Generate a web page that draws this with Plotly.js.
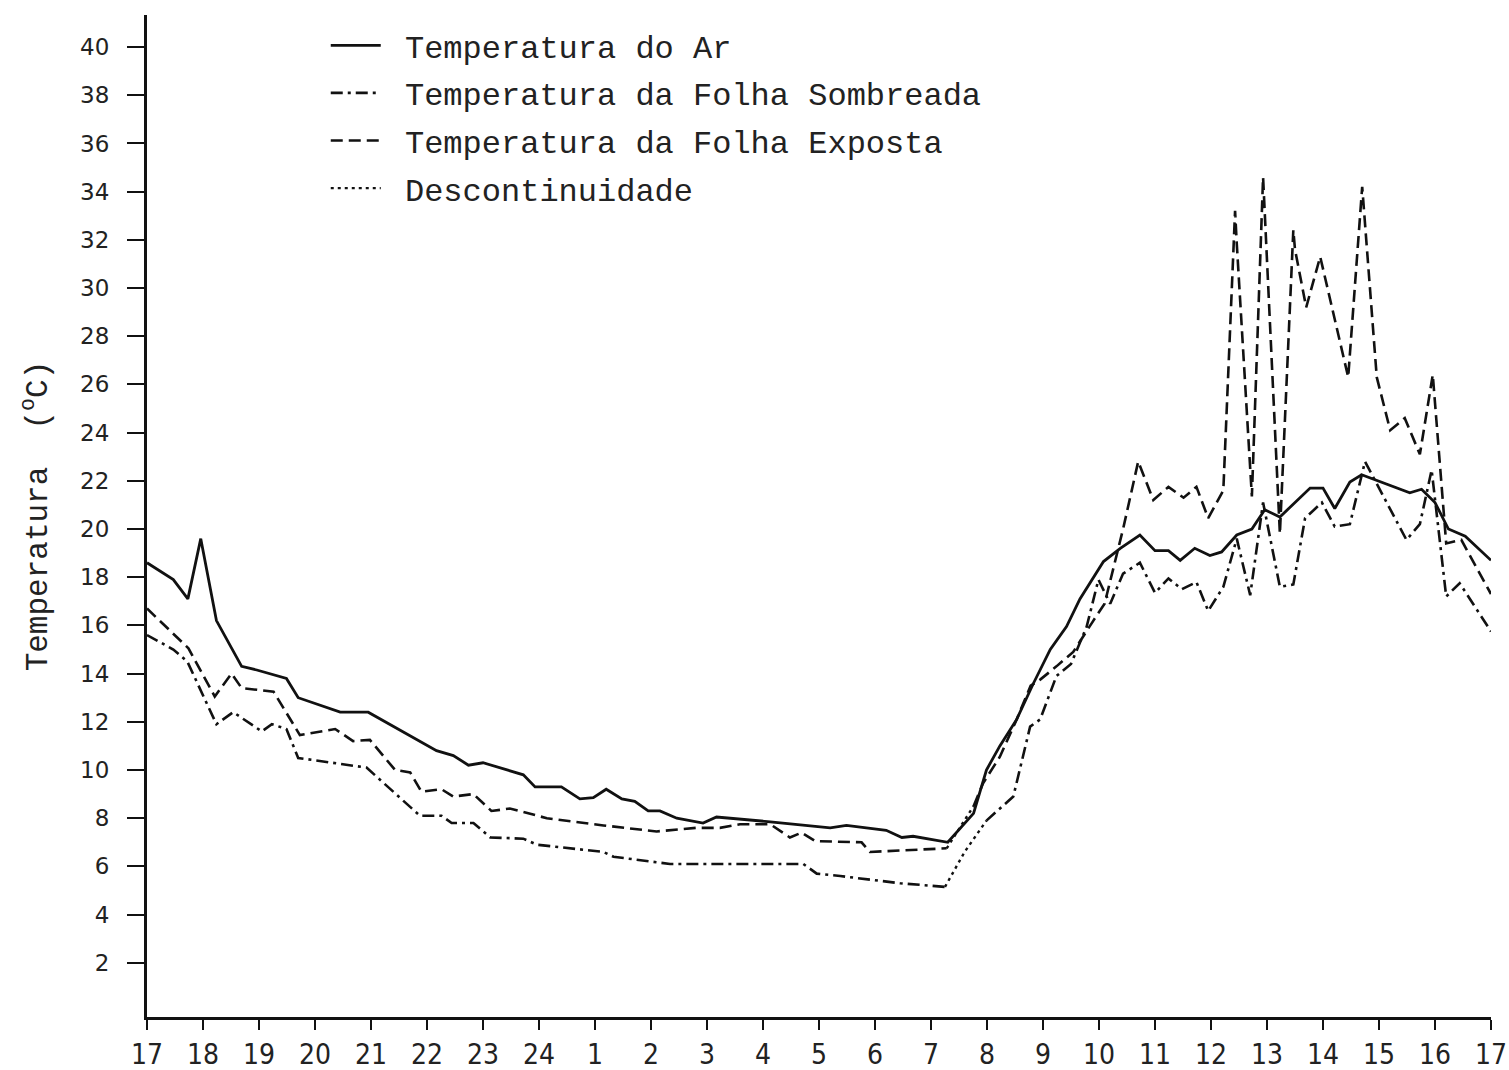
<!DOCTYPE html>
<html>
<head>
<meta charset="utf-8">
<script src="https://cdn.plot.ly/plotly-3.0.1.min.js"></script>
<style>
  html, body { margin: 0; padding: 0; background: #fff; }
  #chart { width: 1509px; height: 1070px; }
</style>
</head>
<body>
<div id="chart"></div>
<script>
// Hours elapsed since 17:00 and the clock labels shown on the axis
const hourTicks = [0,1,2,3,4,5,6,7,8,9,10,11,12,13,14,15,16,17,18,19,20,21,22,23,24];
const hourLabels = ['17','18','19','20','21','22','23','24','1','2','3','4','5','6','7','8','9','10','11','12','13','14','15','16','17'];
const tempTicks = [2,4,6,8,10,12,14,16,18,20,22,24,26,28,30,32,34,36,38,40];

// Temperatura do Ar (solid)
const arHours = [0,0.47,0.73,0.96,1.24,1.69,1.96,2.49,2.70,3.45,3.95,5.17,5.47,5.74,6.0,6.72,6.93,7.40,7.73,7.97,8.2,8.48,8.71,8.95,9.16,9.46,9.93,10.17,11.13,11.84,12.2,12.49,13.2,13.48,13.68,14.3,14.76,14.99,15.23,15.53,15.83,16.13,16.42,16.66,17.08,17.38,17.73,18.0,18.24,18.45,18.71,18.98,19.19,19.46,19.73,19.96,20.23,20.77,21.0,21.21,21.48,21.69,22.55,22.76,23.0,23.24,23.54,24.0];
const arTemp  = [18.6,17.9,17.1,19.6,16.2,14.3,14.15,13.8,13.0,12.4,12.4,10.8,10.6,10.2,10.3,9.8,9.3,9.3,8.8,8.85,9.2,8.8,8.7,8.3,8.3,8.0,7.8,8.05,7.85,7.7,7.6,7.7,7.5,7.2,7.25,7.0,8.2,10.0,11.0,12.1,13.6,15.0,15.95,17.1,18.65,19.2,19.75,19.1,19.1,18.7,19.2,18.9,19.05,19.75,20.0,20.8,20.5,21.7,21.7,20.85,21.95,22.25,21.5,21.65,21.1,20.0,19.7,18.7];

// Temperatura da Folha Sombreada (dash-dot), before and after the gap
const sombHoursA = [0,0.47,0.72,1.24,1.54,2.05,2.23,2.49,2.70,3.92,4.875,5.26,5.44,5.83,6.13,6.72,6.96,8.15,8.33,9.34,11.72,11.96,12.38,13.45,14.25];
const sombTempA  = [15.6,15.0,14.5,11.9,12.4,11.6,11.9,11.7,10.5,10.1,8.1,8.1,7.8,7.8,7.2,7.15,6.9,6.6,6.4,6.1,6.1,5.7,5.6,5.3,5.15];
const sombHoursGap = [14.25,14.6,14.99];
const sombTempGap  = [5.15,6.6,7.9];
const sombHoursB = [14.99,15.47,15.77,15.95,16.24,16.5,16.78,16.99,17.2,17.43,17.73,18.0,18.24,18.48,18.74,18.95,19.22,19.46,19.7,19.93,20.23,20.47,20.68,20.98,21.21,21.48,21.75,22.49,22.73,22.94,23.2,23.44,24.0];
const sombTempB  = [7.9,8.9,11.8,12.1,13.9,14.4,15.95,17.9,16.9,18.15,18.6,17.35,17.95,17.5,17.8,16.6,17.6,19.6,17.25,21.1,17.6,17.7,20.45,21.1,20.1,20.2,22.8,19.55,20.2,22.45,17.2,17.75,15.75];

// Temperatura da Folha Exposta (dashed), before and after the gap
const expHoursA = [0,0.74,1.21,1.51,1.69,2.26,2.73,3.36,3.68,3.98,4.43,4.70,4.9,5.26,5.47,5.83,6.15,6.48,7.14,8.15,9.1,9.8,10.23,10.59,11.13,11.48,11.69,11.93,12.76,12.91,14.28];
const expTempA  = [16.7,15.05,13.05,14.0,13.4,13.25,11.45,11.7,11.2,11.25,10.0,9.9,9.1,9.2,8.9,9.0,8.3,8.4,8.0,7.7,7.45,7.6,7.6,7.75,7.75,7.2,7.4,7.05,7.0,6.6,6.75];
const expHoursGap = [14.28,14.76];
const expTempGap  = [6.75,8.5];
const expHoursB = [14.76,14.93,15.23,15.53,15.78,15.95,16.24,16.54,16.9,17.1,17.43,17.7,17.97,18.24,18.51,18.74,18.95,19.22,19.43,19.46,19.73,19.93,20.23,20.47,20.5,20.7,20.95,21.45,21.7,21.96,22.2,22.46,22.73,22.96,23.2,23.47,24.0];
const expTempB  = [8.5,9.45,10.55,12.1,13.5,13.75,14.3,14.9,16.2,16.9,20.0,22.8,21.2,21.75,21.3,21.75,20.45,21.6,33.2,31.85,21.35,34.6,19.8,32.4,31.6,29.2,31.3,26.3,34.2,26.3,24.1,24.6,23.1,26.4,19.4,19.55,17.3];

const ink = '#111';
const mono = '"Liberation Mono", "DejaVu Sans Mono", monospace';
const DASH = '12px,6px';
const DASHDOT = '12px,5px,3px,5px';
const DOT = '3px,4px';
const pad = '\u00a0';

const traces = [
  {x: arHours, y: arTemp, name: pad + 'Temperatura do Ar', legendgroup: 'a',
   mode: 'lines', line: {color: ink, width: 2.8}},
  {x: sombHoursA, y: sombTempA, name: pad + 'Temperatura da Folha Sombreada', legendgroup: 'b',
   mode: 'lines', line: {color: ink, width: 2.6, dash: DASHDOT}},
  {x: expHoursA, y: expTempA, name: pad + 'Temperatura da Folha Exposta', legendgroup: 'c',
   mode: 'lines', line: {color: ink, width: 2.6, dash: DASH}},
  {x: expHoursGap, y: expTempGap, name: pad + 'Descontinuidade', legendgroup: 'd',
   mode: 'lines', line: {color: ink, width: 2.4, dash: DOT}},
  {x: sombHoursGap, y: sombTempGap, name: 'Descontinuidade', legendgroup: 'd', showlegend: false,
   mode: 'lines', line: {color: ink, width: 2.4, dash: DOT}},
  {x: sombHoursB, y: sombTempB, name: 'Temperatura da Folha Sombreada', legendgroup: 'b', showlegend: false,
   mode: 'lines', line: {color: ink, width: 2.6, dash: DASHDOT}},
  {x: expHoursB, y: expTempB, name: 'Temperatura da Folha Exposta', legendgroup: 'c', showlegend: false,
   mode: 'lines', line: {color: ink, width: 2.6, dash: DASH}}
];

const layout = {
  width: 1509, height: 1070,
  margin: {l: 147, r: 18, t: 15, b: 53},
  paper_bgcolor: '#fff', plot_bgcolor: '#fff',
  showlegend: true,
  legend: {
    x: 0.133, y: 0.997, xanchor: 'left', yanchor: 'top',
    bgcolor: 'rgba(0,0,0,0)', borderwidth: 0,
    font: {family: mono, size: 32, color: '#222'},
    traceorder: 'grouped', tracegroupgap: 3, itemwidth: 50
  },
  xaxis: {
    range: [0, 24], tickmode: 'array', tickvals: hourTicks, ticktext: hourLabels,
    showgrid: false, zeroline: false, showline: true, linecolor: ink, linewidth: 3,
    ticks: 'outside', ticklen: 10, tickwidth: 2, tickcolor: ink,
    tickfont: {family: '"Liberation Sans Narrow", "DejaVu Sans Condensed", sans-serif', size: 28, color: '#222'},
    ticklabelstandoff: 0
  },
  yaxis: {
    range: [-0.25, 41.33], tickmode: 'array', tickvals: tempTicks,
    showgrid: false, zeroline: false, showline: true, linecolor: ink, linewidth: 3,
    ticks: 'outside', ticklen: 17, tickwidth: 2, tickcolor: ink,
    tickfont: {family: '"DejaVu Sans", sans-serif', size: 23, color: '#222'},
    ticklabelstandoff: 13,
    title: {text: 'Temperatura  (<sup>o</sup>C)', font: {family: mono, size: 31, color: '#222'}, standoff: 24}
  }
};

Plotly.newPlot('chart', traces, layout, {staticPlot: true, displayModeBar: false});
</script>
</body>
</html>
